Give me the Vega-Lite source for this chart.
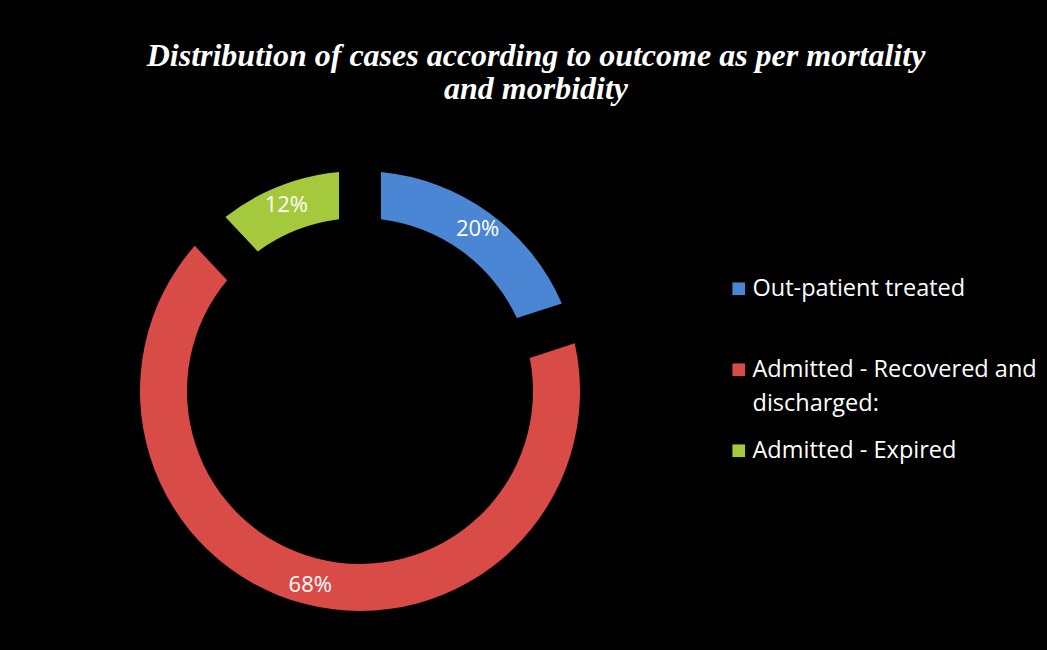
{
  "$schema": "https://vega.github.io/schema/vega-lite/v6.json",
  "width": 430,
  "height": 470,
  "autosize": {"type": "none"},
  "padding": {"left": 145, "top": 156, "right": 472, "bottom": 24},
  "background": "black",
  "title": {
    "text": ["Distribution of cases according to outcome as per mortality", "and morbidity"],
    "font": "Liberation Serif",
    "fontSize": 32,
    "fontStyle": "italic",
    "fontWeight": "bold",
    "color": "white",
    "anchor": "middle",
    "frame": "group",
    "dx": 176,
    "offset": 50,
    "lineHeight": 33
  },
  "data": {
    "values": [
      {"category": "Out-patient treated", "pct": 0.20, "rank": 1},
      {"category": "Admitted - Recovered and discharged:", "pct": 0.68, "rank": 2},
      {"category": "Admitted - Expired", "pct": 0.12, "rank": 3}
    ]
  },
  "encoding": {
    "theta": {"field": "pct", "type": "quantitative", "stack": true},
    "order": {"field": "rank", "type": "quantitative"}
  },
  "layer": [
    {
      "mark": {"type": "arc", "outerRadius": 220, "innerRadius": 173, "padAngle": 0.15},
      "encoding": {
        "color": {
          "field": "category",
          "type": "nominal",
          "scale": {
            "domain": ["Out-patient treated", "Admitted - Recovered and discharged:", "Admitted - Expired"],
            "range": ["#4a86d4", "#d94b46", "#a5c93c"]
          },
          "legend": {
            "title": null,
            "orient": "none",
            "legendX": 582,
            "legendY": 121,
            "labelFont": "Open Sans",
            "labelFontSize": 23.5,
            "labelColor": "white",
            "symbolType": "square",
            "symbolSize": 160,
            "symbolStrokeWidth": 0,
            "symbolOpacity": 1,
            "labelLimit": 400,
            "rowPadding": 22,
            "labelOffset": 2,
            "labelExpr": "datum.label == 'Admitted - Recovered and discharged:' ? ['Admitted - Recovered and', 'discharged:'] : [datum.label, ' ']"
          }
        }
      }
    },
    {
      "mark": {"type": "text", "radius": 200, "font": "Open Sans", "fontSize": 22, "color": "white"},
      "encoding": {
        "text": {"field": "pct", "type": "quantitative", "format": ".0%"}
      }
    }
  ],
  "config": {
    "view": {"stroke": null},
    "style": {"guide-label": {"lineHeight": 34}}
  }
}
